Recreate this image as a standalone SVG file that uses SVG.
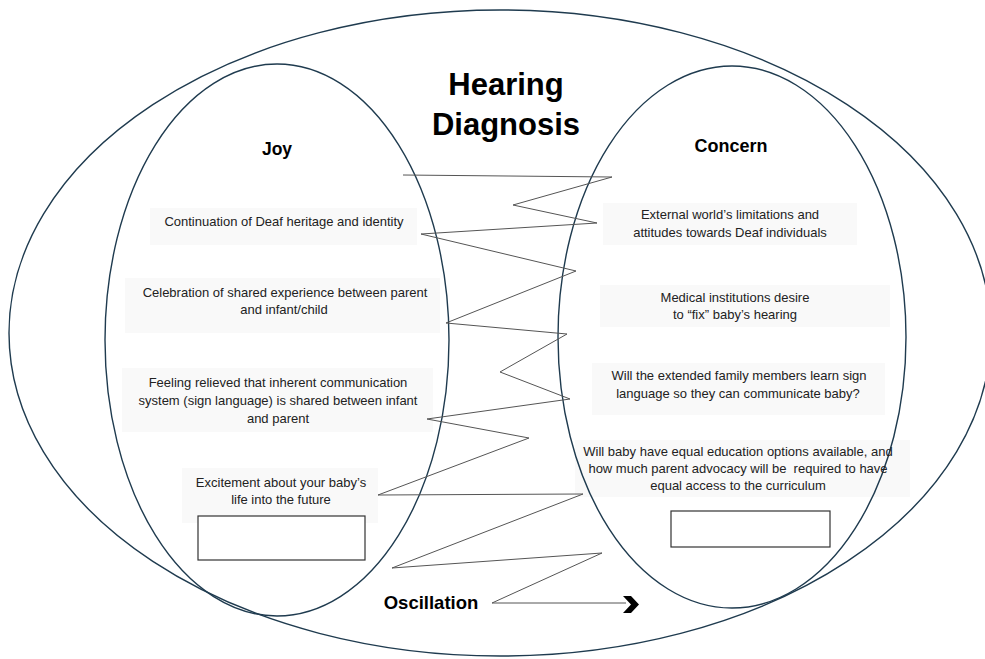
<svg xmlns="http://www.w3.org/2000/svg" width="985" height="659" viewBox="0 0 985 659">
<style>
.ell{fill:none;stroke:#1f3b4f;stroke-width:1.4}
.box{fill:#f9f9f9;stroke:none}
.t{font-family:"Liberation Sans",Arial,sans-serif;font-size:13px;fill:#222;text-anchor:middle}
.h{font-family:"Liberation Sans",Arial,sans-serif;font-weight:bold;fill:#000;text-anchor:middle}
.empty{fill:#fff;stroke:#333;stroke-width:1.2}
.zz{fill:none;stroke:#555;stroke-width:1;stroke-linejoin:miter}
</style>
<rect width="985" height="659" fill="#fff"/>
<g id="outer">
<ellipse class="ell" cx="500" cy="333" rx="491" ry="323"/>
<text class="h" x="506" y="95" font-size="31">Hearing</text>
<text class="h" x="506" y="135" font-size="31">Diagnosis</text>
</g>
<g id="joy-boxes">
<rect class="box" x="150" y="208" width="267" height="37"/>
<rect class="box" x="125" y="278" width="315" height="55"/>
<rect class="box" x="122" y="368" width="311" height="64"/>
<rect class="box" x="182" y="468" width="196" height="55"/>
</g>
<g id="concern-boxes">
<rect class="box" x="603" y="203" width="254" height="42"/>
<rect class="box" x="600" y="285" width="290" height="42"/>
<rect class="box" x="592" y="363" width="293" height="52"/>
<rect class="box" x="575" y="440" width="335" height="57"/>
</g>
<g id="joy">
<ellipse class="ell" cx="277" cy="340" rx="172" ry="276"/>
<text class="h" x="277" y="155" font-size="17.5">Joy</text>
</g>
<g id="concern">
<ellipse class="ell" cx="732" cy="337" rx="174" ry="271"/>
<text class="h" x="731" y="152" font-size="18">Concern</text>
</g>
<g id="connectors">
<polyline class="zz" points="403,175 612,177 513,205 597,223 421,234 576,271 446,323 567,334 500,372 570,399 427,419 529,438 378,495 583,494 392,568 602,553 492,603 626,603"/>
<polygon points="623,596 631,596 639,604.5 631,613 623,613 631,604.5" fill="#000"/>
</g>
<g id="joy-1">
<text class="t" x="284" y="226">Continuation of Deaf heritage and identity</text>
</g>
<g id="joy-2">
<text class="t" x="285" y="297">Celebration of shared experience between parent</text>
<text class="t" x="284" y="314">and infant/child</text>
</g>
<g id="joy-3">
<text class="t" x="278" y="387">Feeling relieved that inherent communication</text>
<text class="t" x="278" y="405">system (sign language) is shared between infant</text>
<text class="t" x="278" y="423">and parent</text>
</g>
<g id="joy-4">
<text class="t" x="281" y="487">Excitement about your baby’s</text>
<text class="t" x="281" y="504">life into the future</text>
<rect class="empty" x="198" y="516" width="167" height="44"/>
</g>
<g id="concern-1">
<text class="t" x="730" y="219">External world’s limitations and</text>
<text class="t" x="730" y="237">attitudes towards Deaf individuals</text>
</g>
<g id="concern-2">
<text class="t" x="735" y="302">Medical institutions desire</text>
<text class="t" x="735" y="319">to “fix” baby’s hearing</text>
</g>
<g id="concern-3">
<text class="t" x="739" y="380">Will the extended family members learn sign</text>
<text class="t" x="738" y="398">language so they can communicate baby?</text>
</g>
<g id="concern-4">
<text class="t" x="738" y="456">Will baby have equal education options available, and</text>
<text class="t" x="738" y="473" xml:space="preserve">how much parent advocacy will be  required to have</text>
<text class="t" x="738" y="490">equal access to the curriculum</text>
<rect class="empty" x="671" y="511" width="159" height="36"/>
</g>
<g id="oscillation">
<text class="h" x="431" y="609" font-size="18.5">Oscillation</text>
</g>
</svg>
